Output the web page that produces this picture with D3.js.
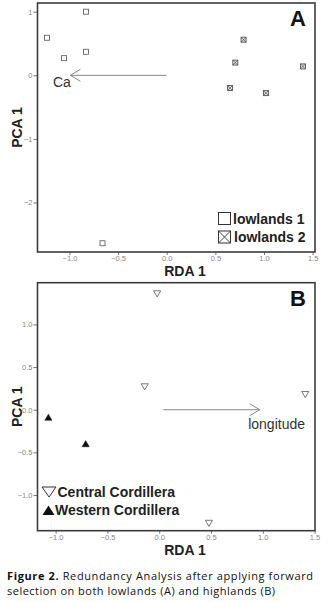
<!DOCTYPE html>
<html>
<head>
<meta charset="utf-8">
<script src="https://cdn.jsdelivr.net/npm/d3@7"></script>
<style>
  body { margin: 0; background: #fff; }
  svg { display: block; }
</style>
</head>
<body>
<div id="chart"></div>
<script>
// panel A: lowlands
const lowlands1 = [
	{x: -0.83, y: 1.00},
	{x: -1.23, y: 0.59},
	{x: -1.055, y: 0.27},
	{x: -0.83, y: 0.37},
	{x: -0.66, y: -2.64}
];
const lowlands2 = [
	{x: 0.79, y: 0.56},
	{x: 0.705, y: 0.20},
	{x: 0.65, y: -0.20},
	{x: 1.02, y: -0.28},
	{x: 1.40, y: 0.14}
];
const arrowA = {x0: 0, y0: 0, x1: -0.99, y1: 0, label: "Ca"};
const xTicksA = [-1.0, -0.5, 0.0, 0.5, 1.0, 1.5];
const yTicksA = [1, 0, -1, -2];

// panel B: highlands
const central = [
	{x: -0.02, y: 1.37},
	{x: -0.14, y: 0.28},
	{x: 1.41, y: 0.19},
	{x: 0.48, y: -1.32}
];
const western = [
	{x: -1.07, y: -0.10},
	{x: -0.71, y: -0.41}
];
const arrowB = {x0: 0.04, y0: 0, x1: 0.97, y1: 0, label: "longitude"};
const xTicksB = [-1.0, -0.5, 0.0, 0.5, 1.0, 1.5];
const yTicksB = [1.0, 0.5, 0.0, -0.5, -1.0];

const W = 328, H = 602;
const frameCol = "#3c3c3c";
const ptCol = "#666";
const font = "Liberation Sans, Arial, sans-serif";

const svg = d3.select("#chart").append("svg")
	.attr("width", W).attr("height", H);
svg.append("rect").attr("width", W).attr("height", H).attr("fill", "#fff");

function drawPanel(opt) {
	const g = svg.append("g");
	const x = d3.scaleLinear().domain(opt.xDom).range([opt.left, opt.right]);
	const y = d3.scaleLinear().domain(opt.yDom).range([opt.top, opt.bottom]);

	// axes
	const xa = g.append("g")
		.attr("transform", "translate(0," + opt.bottom + ")")
		.call(d3.axisBottom(x).tickValues(opt.xTicks).tickFormat(d3.format(".1f")).tickSize(3).tickPadding(1));
	const ya = g.append("g")
		.attr("transform", "translate(" + opt.left + ",0)")
		.call(d3.axisLeft(y).tickValues(opt.yTicks).tickFormat(d3.format(opt.yFmt)).tickSize(4).tickPadding(1));
	[xa, ya].forEach(a => {
		a.select(".domain").remove();
		a.selectAll("line").attr("stroke", "#777");
		a.selectAll("text").attr("fill", "#888")
			.style("font-family", font).style("font-size", "7.5px");
	});

	// frame
	g.append("rect")
		.attr("x", opt.left).attr("y", opt.top)
		.attr("width", opt.right - opt.left).attr("height", opt.bottom - opt.top)
		.attr("fill", "none").attr("stroke", frameCol).attr("stroke-width", 1.6);

	// arrow
	const a = opt.arrow;
	const ax0 = x(a.x0), ax1 = x(a.x1), ay = y(a.y0);
	const dir = ax1 > ax0 ? -1 : 1;
	g.append("line").attr("x1", ax0).attr("x2", ax1).attr("y1", ay).attr("y2", ay)
		.attr("stroke", "#888").attr("stroke-width", 1);
	g.append("path")
		.attr("d", "M" + (ax1 + dir * 10) + "," + (ay - 6) + "L" + ax1 + "," + ay + "L" + (ax1 + dir * 10) + "," + (ay + 6))
		.attr("fill", "none").attr("stroke", "#888").attr("stroke-width", 1);
	g.append("text")
		.attr("x", opt.arrowLabelX).attr("y", opt.arrowLabelY)
		.attr("text-anchor", opt.arrowAnchor)
		.style("font-family", font).style("font-size", "14px")
		.attr("fill", "#333").text(a.label);

	// panel letter
	g.append("text")
		.attr("x", opt.right - 9).attr("y", opt.top + 23)
		.attr("text-anchor", "end")
		.style("font-family", font).style("font-size", "22px").style("font-weight", "bold")
		.attr("fill", "#111").text(opt.letter);

	// axis titles
	g.append("text")
		.attr("x", 185).attr("y", opt.bottom + 24)
		.attr("text-anchor", "middle")
		.style("font-family", font).style("font-size", "14px").style("font-weight", "bold")
		.attr("fill", "#222").text("RDA 1");
	g.append("text")
		.attr("transform", "translate(22," + ((opt.top + opt.bottom) / 2) + ") rotate(-90)")
		.attr("text-anchor", "middle")
		.style("font-family", font).style("font-size", "14px").style("font-weight", "bold")
		.attr("fill", "#222").text("PCA 1");

	return {g, x, y};
}

// ---- Panel A ----
const pA = drawPanel({
	left: 37.5, right: 315, top: 3, bottom: 252,
	xDom: [-1.328, 1.524], yDom: [1.137, -2.778],
	xTicks: xTicksA, yTicks: yTicksA, yFmt: "d",
	arrow: arrowA, arrowLabelX: 53, arrowLabelY: 87, arrowAnchor: "start",
	letter: "A"
});

pA.g.selectAll(".l1").data(lowlands1).enter().append("rect")
	.attr("x", d => pA.x(d.x) - 2.5).attr("y", d => pA.y(d.y) - 2.5)
	.attr("width", 5).attr("height", 5)
	.attr("fill", "#fff").attr("stroke", ptCol).attr("stroke-width", 0.9);

const l2 = pA.g.selectAll(".l2").data(lowlands2).enter().append("g")
	.attr("transform", d => "translate(" + pA.x(d.x) + "," + pA.y(d.y) + ")");
l2.append("rect").attr("x", -2.5).attr("y", -2.5).attr("width", 5).attr("height", 5)
	.attr("fill", "#ddd").attr("stroke", "#555").attr("stroke-width", 0.9);
l2.append("path").attr("d", "M-2.5,-2.5L2.5,2.5M2.5,-2.5L-2.5,2.5")
	.attr("stroke", "#555").attr("stroke-width", 0.7);

// legend A
const legA = pA.g.append("g");
legA.append("rect").attr("x", 218.5).attr("y", 212.5).attr("width", 12).attr("height", 12)
	.attr("fill", "#fff").attr("stroke", "#333").attr("stroke-width", 1);
legA.append("text").attr("x", 233).attr("y", 223.5)
	.style("font-family", font).style("font-size", "14px").style("font-weight", "bold")
	.attr("fill", "#222").text("lowlands 1");
legA.append("rect").attr("x", 218.5).attr("y", 231).attr("width", 12).attr("height", 12)
	.attr("fill", "#fff").attr("stroke", "#333").attr("stroke-width", 1);
legA.append("path").attr("d", "M218.5,231L230.5,243M230.5,231L218.5,243")
	.attr("stroke", "#333").attr("stroke-width", 0.9);
legA.append("text").attr("x", 234).attr("y", 242)
	.style("font-family", font).style("font-size", "14px").style("font-weight", "bold")
	.attr("fill", "#222").text("lowlands 2");

// ---- Panel B ----
const pB = drawPanel({
	left: 37.5, right: 315, top: 282.7, bottom: 530.7,
	xDom: [-1.175, 1.504], yDom: [1.489, -1.418],
	xTicks: xTicksB, yTicks: yTicksB, yFmt: ".1f",
	arrow: arrowB, arrowLabelX: 305, arrowLabelY: 429, arrowAnchor: "end",
	letter: "B"
});

const tri = d3.symbol().type(d3.symbolTriangle).size(22);
pB.g.selectAll(".cc").data(central).enter().append("path")
	.attr("d", tri)
	.attr("transform", d => "translate(" + pB.x(d.x) + "," + pB.y(d.y) + ") rotate(180)")
	.attr("fill", "#fff").attr("stroke", ptCol).attr("stroke-width", 0.9);
pB.g.selectAll(".wc").data(western).enter().append("path")
	.attr("d", tri)
	.attr("transform", d => "translate(" + pB.x(d.x) + "," + pB.y(d.y) + ")")
	.attr("fill", "#111").attr("stroke", "#111").attr("stroke-width", 0.5);

// legend B
const legB = pB.g.append("g");
legB.append("path").attr("d", "M42,487L56,487L49,497Z")
	.attr("fill", "#fff").attr("stroke", "#333").attr("stroke-width", 1);
legB.append("text").attr("x", 57.5).attr("y", 496.5)
	.style("font-family", font).style("font-size", "14px").style("font-weight", "bold")
	.attr("fill", "#222").text("Central Cordillera");
legB.append("path").attr("d", "M42.5,515L54.5,515L48.5,505.5Z")
	.attr("fill", "#111");
legB.append("text").attr("x", 55).attr("y", 515)
	.style("font-family", font).style("font-size", "14px").style("font-weight", "bold")
	.attr("fill", "#222").text("Western Cordillera");

// caption
const capFont = "Open Sans, DejaVu Sans, sans-serif";
const c1 = svg.append("text").attr("x", 7).attr("y", 580)
	.attr("textLength", 306).attr("lengthAdjust", "spacing")
	.style("font-family", capFont).style("font-size", "11px").attr("fill", "#111");
c1.append("tspan").style("font-weight", "bold").text("Figure 2.");
c1.append("tspan").text(" Redundancy Analysis after applying forward");
svg.append("text").attr("x", 7).attr("y", 595)
	.attr("textLength", 268).attr("lengthAdjust", "spacing")
	.style("font-family", capFont).style("font-size", "11px").attr("fill", "#111")
	.text("selection on both lowlands (A) and highlands (B)");
</script>
</body>
</html>
